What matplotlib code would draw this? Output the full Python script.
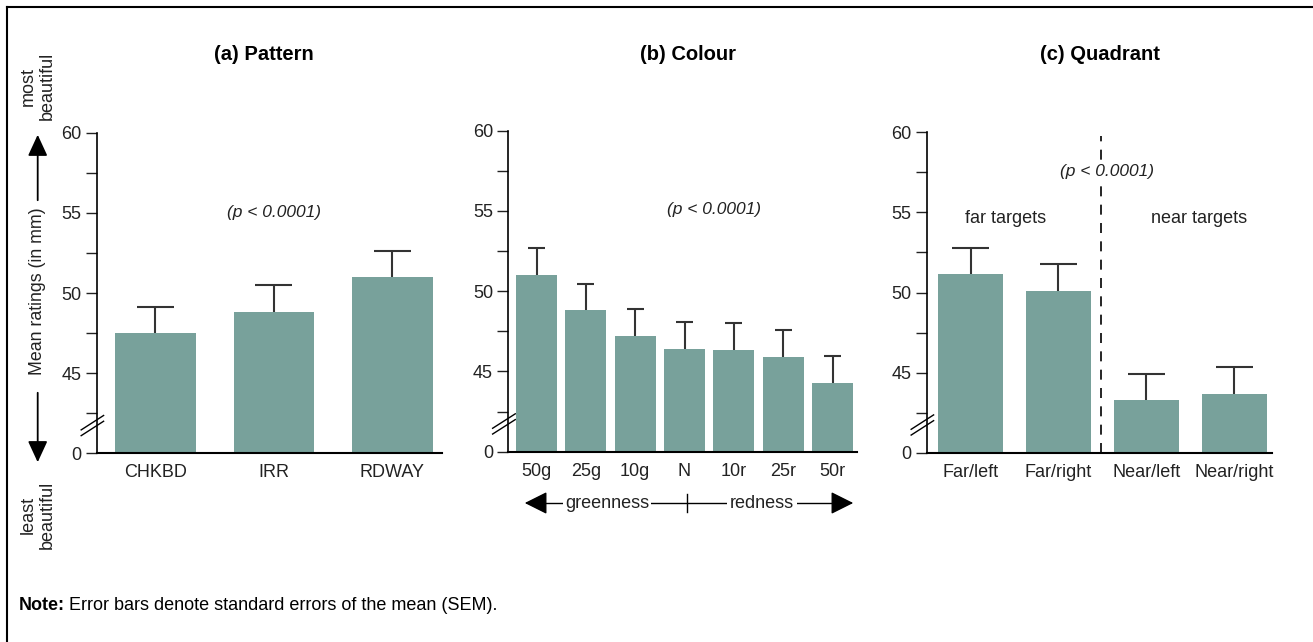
import numpy as np
import matplotlib
matplotlib.use("Agg")
import matplotlib.pyplot as plt
from matplotlib.lines import Line2D
from matplotlib.patches import FancyArrowPatch

plt.rcParams['font.family'] = ['Liberation Sans', 'DejaVu Sans']

# data (mean ratings in mm, upper error = SEM)
pattern_labels = ['CHKBD', 'IRR', 'RDWAY']
pattern_means = [47.5, 48.8, 51.0]
pattern_err = [1.6, 1.7, 1.6]

colour_labels = ['50g', '25g', '10g', 'N', '10r', '25r', '50r']
colour_means = [51.0, 48.8, 47.2, 46.4, 46.35, 45.9, 44.3]
colour_err = [1.7, 1.65, 1.7, 1.7, 1.65, 1.7, 1.65]

quad_labels = ['Far/left', 'Far/right', 'Near/left', 'Near/right']
quad_means = [51.15, 50.1, 43.3, 43.65]
quad_err = [1.6, 1.7, 1.6, 1.7]

yticks = [40, 45, 50, 55, 60]
ytick_labels = ['0', '45', '50', '55', '60']

bar_col = '#78a19b'
err_col = '#333333'
txt_col = '#222222'
W, H = 1313, 642

fig = plt.figure(figsize=(W / 100, H / 100), dpi=100)


def px_axes(x0, x1, ytop, ybot):
    return fig.add_axes([x0 / W, 1 - ybot / H, (x1 - x0) / W, (ybot - ytop) / H])


def setup(ax, labels, xlim):
    ax.set_ylim(40, 60)
    ax.set_xlim(*xlim)
    ax.set_yticks(yticks)
    ax.set_yticklabels(ytick_labels)
    ax.set_yticks([42.5, 47.5, 52.5, 57.5], minor=True)
    ax.set_xticks(range(len(labels)))
    ax.set_xticklabels(labels)
    for s in ['top', 'right']:
        ax.spines[s].set_visible(False)
    ax.spines['left'].set_linewidth(1.2)
    ax.spines['bottom'].set_linewidth(1.5)
    ax.tick_params(axis='y', which='both', length=8, width=1, labelsize=13, pad=3, colors=txt_col)
    ax.tick_params(axis='x', length=0, labelsize=13, pad=8, colors=txt_col)
    # axis break marks
    for dy in (0, 0.018):
        ax.add_line(Line2D([-0.045, 0.02], [0.055 + dy, 0.1 + dy], transform=ax.transAxes,
                           color='black', lw=1, clip_on=False))


def bars(ax, means, errs, width, cap):
    x = np.arange(len(means))
    m = np.array(means)
    ax.bar(x, m - 40, bottom=40, width=width, color=bar_col, zorder=2)
    ax.vlines(x, m, m + np.array(errs), color=err_col, lw=1.5, zorder=1)
    ax.hlines(m + np.array(errs), x - cap, x + cap, color=err_col, lw=1.5, zorder=1)


def arrow(p0, p1, hl=14, hw=8, lw=1.3):
    fig.patches.append(FancyArrowPatch(p0, p1, transform=fig.transFigure,
                                       arrowstyle=f'-|>,head_length={hl},head_width={hw}',
                                       color='black', lw=lw, figure=fig))


# (a) Pattern
axa = px_axes(96.7, 441.7, 132.7, 453.3)
setup(axa, pattern_labels, (-0.495, 2.417))
bars(axa, pattern_means, pattern_err, 0.68, 0.156)
axa.text(1, 55, '(p < 0.0001)', ha='center', va='center', style='italic', fontsize=12.5, color=txt_col)
fig.text(264 / W, 1 - 54 / H, '(a) Pattern', ha='center', va='center', fontsize=14.5, fontweight='bold')

# (b) Colour
axb = px_axes(508.3, 856.7, 130.7, 451.7)
setup(axb, colour_labels, (-0.572, 6.49))
bars(axb, colour_means, colour_err, 0.83, 0.17)
axb.text(3.6, 55.1, '(p < 0.0001)', ha='center', va='center', style='italic', fontsize=12.5, color=txt_col)
fig.text(688 / W, 1 - 55 / H, '(b) Colour', ha='center', va='center', fontsize=14.5, fontweight='bold')

# greenness / redness arrows under panel b
ya = 1 - 503 / H
fig.add_artist(Line2D([686.7 / W, 686.7 / W], [1 - 494 / H, 1 - 512 / H], color='black', lw=1))
fig.text(607 / W, ya, 'greenness', ha='center', va='center', fontsize=13, color=txt_col,
         bbox=dict(facecolor='white', edgecolor='none', pad=1.5), zorder=3)
fig.text(762 / W, ya, 'redness', ha='center', va='center', fontsize=13, color=txt_col,
         bbox=dict(facecolor='white', edgecolor='none', pad=2.5), zorder=3)
fig.add_artist(Line2D([535 / W, 845 / W], [ya, ya], color='black', lw=1, zorder=1))
arrow((545 / W, ya), (522 / W, ya), hl=14, hw=7, lw=1)
arrow((835 / W, ya), (856 / W, ya), hl=14, hw=7, lw=1)

# (c) Quadrant
axc = px_axes(926.7, 1272, 132.3, 452.7)
setup(axc, quad_labels, (-0.5, 3.43))
bars(axc, quad_means, quad_err, 0.74, 0.21)
axc.vlines(1.486, 40, 59.8, color='black', lw=1.2, linestyles=(0, (6, 5)), zorder=0)
axc.text(1.55, 57.55, '(p < 0.0001)', ha='center', va='center', style='italic', fontsize=12.5,
         color=txt_col, bbox=dict(facecolor='white', edgecolor='none', pad=0.5))
axc.text(0.4, 54.65, 'far targets', ha='center', va='center', fontsize=13, color=txt_col)
axc.text(2.6, 54.6, 'near targets', ha='center', va='center', fontsize=13, color=txt_col)
fig.text(1100 / W, 1 - 54 / H, '(c) Quadrant', ha='center', va='center', fontsize=14.5, fontweight='bold')

# y label with arrows
xl = 37.7 / W
fig.text(xl, 1 - 291 / H, 'Mean ratings (in mm)', rotation=90, ha='center', va='center', fontsize=12.8, color=txt_col)
arrow((xl, 1 - 203 / H), (xl, 1 - 132 / H), hl=13, hw=6)
arrow((xl, 1 - 390 / H), (xl, 1 - 465 / H), hl=13, hw=6)
fig.text(xl, 1 - 86 / H, 'most\nbeautiful', rotation=90, ha='center', va='center', multialignment='center',
         fontsize=13, linespacing=1.15, color=txt_col)
fig.text(xl, 1 - 515 / H, 'least\nbeautiful', rotation=90, ha='center', va='center', multialignment='center',
         fontsize=13, linespacing=1.15, color=txt_col)

# note
fig.text(19 / W, 1 - 606 / H, 'Note:', ha='left', va='center', fontsize=13, fontweight='bold')
fig.text(69 / W, 1 - 606 / H, 'Error bars denote standard errors of the mean (SEM).',
         ha='left', va='center', fontsize=13)

# frame (top and left edges)
fig.add_artist(Line2D([7 / W, 1], [1 - 7 / H, 1 - 7 / H], color='black', lw=1.5))
fig.add_artist(Line2D([7 / W, 7 / W], [0, 1 - 7 / H], color='black', lw=1.5))

fig.savefig('out.png', dpi=100)
